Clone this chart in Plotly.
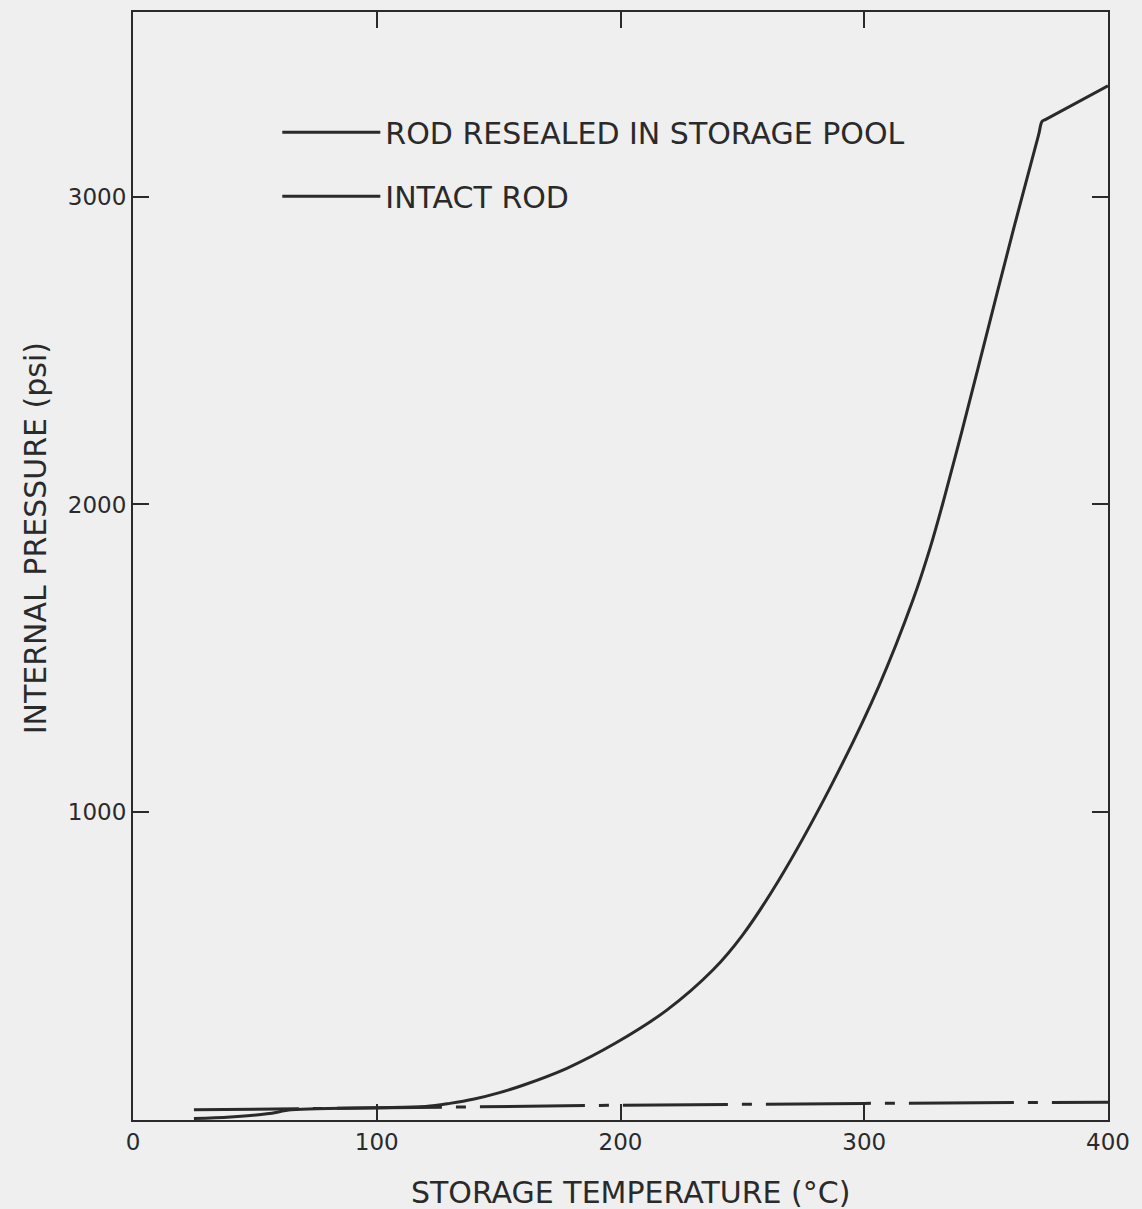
import plotly.graph_objects as go

# Data
temp_resealed = [25, 40, 55, 65, 80, 100, 120, 130, 140, 150, 160, 178, 198, 219, 238, 250,
                 265, 286, 306, 320, 327, 333, 340, 347, 361, 371.5, 373, 374.5, 400]
press_resealed = [5, 10, 20, 33, 37, 40, 44, 54, 68, 88, 113, 168, 250, 357, 488, 600,
                  780, 1080, 1410, 1690, 1858, 2026, 2236, 2453, 2887, 3200, 3245, 3251, 3360]

temp_intact = [25, 100, 200, 300, 400]
press_intact = [33, 40, 48, 54, 58]

x_ticks = [0, 100, 200, 300, 400]
y_ticks = [1000, 2000, 3000]

x_title = "STORAGE TEMPERATURE (°C)"
y_title = "INTERNAL PRESSURE (psi)"

FONT = "DejaVu Sans, Verdana, sans-serif"
INK = "#2a2a2a"
BG = "#efefef"

fig = go.Figure()
fig.add_trace(go.Scatter(
    x=temp_resealed, y=press_resealed, mode="lines",
    name="ROD RESEALED IN STORAGE POOL", legendgroup="a",
    line=dict(color=INK, width=3, shape="spline", smoothing=1.0),
))
fig.add_trace(go.Scatter(
    x=temp_intact, y=press_intact, mode="lines",
    name="INTACT ROD", legendgroup="b",
    line=dict(color=INK, width=3, dash="105px,14px,10px,14px"),
))

axis_common = dict(
    showline=True, linecolor=INK, linewidth=2, mirror="ticks",
    ticks="inside", ticklen=16, tickwidth=1.5, tickcolor=INK,
    showgrid=False, zeroline=False, automargin=False,
    tickfont=dict(family=FONT, size=23, color=INK),
)

fig.update_layout(
    width=1142, height=1209,
    margin=dict(l=133, r=34, t=12, b=89),
    paper_bgcolor=BG, plot_bgcolor=BG,
    font=dict(family=FONT, color=INK),
    showlegend=True,
    legend=dict(
        x=0.148, y=0.915, xanchor="left", yanchor="top",
        bgcolor="rgba(0,0,0,0)", borderwidth=0,
        font=dict(family=FONT, size=30, color=INK),
        itemwidth=98, tracegroupgap=22,
    ),
    xaxis=dict(
        range=[0, 400], tickvals=x_ticks, ticktext=[str(v) for v in x_ticks],
        **axis_common,
    ),
    yaxis=dict(
        range=[0, 3600], tickvals=y_ticks, ticktext=[str(v) for v in y_ticks],
        **axis_common,
    ),
    annotations=[
        dict(text=x_title, xref="paper", yref="paper", x=0.51, y=-0.065,
             xanchor="center", yanchor="middle", showarrow=False,
             font=dict(family=FONT, size=30, color=INK)),
        dict(text=y_title, xref="paper", yref="paper", x=-0.1005, y=0.525,
             xanchor="center", yanchor="middle", showarrow=False, textangle=-90,
             font=dict(family=FONT, size=30, color=INK)),
    ],
)

fig.write_html(
    "out.html",
    config={"displayModeBar": False},
    post_script="document.body.style.margin='0';document.body.style.padding='0';",
)
